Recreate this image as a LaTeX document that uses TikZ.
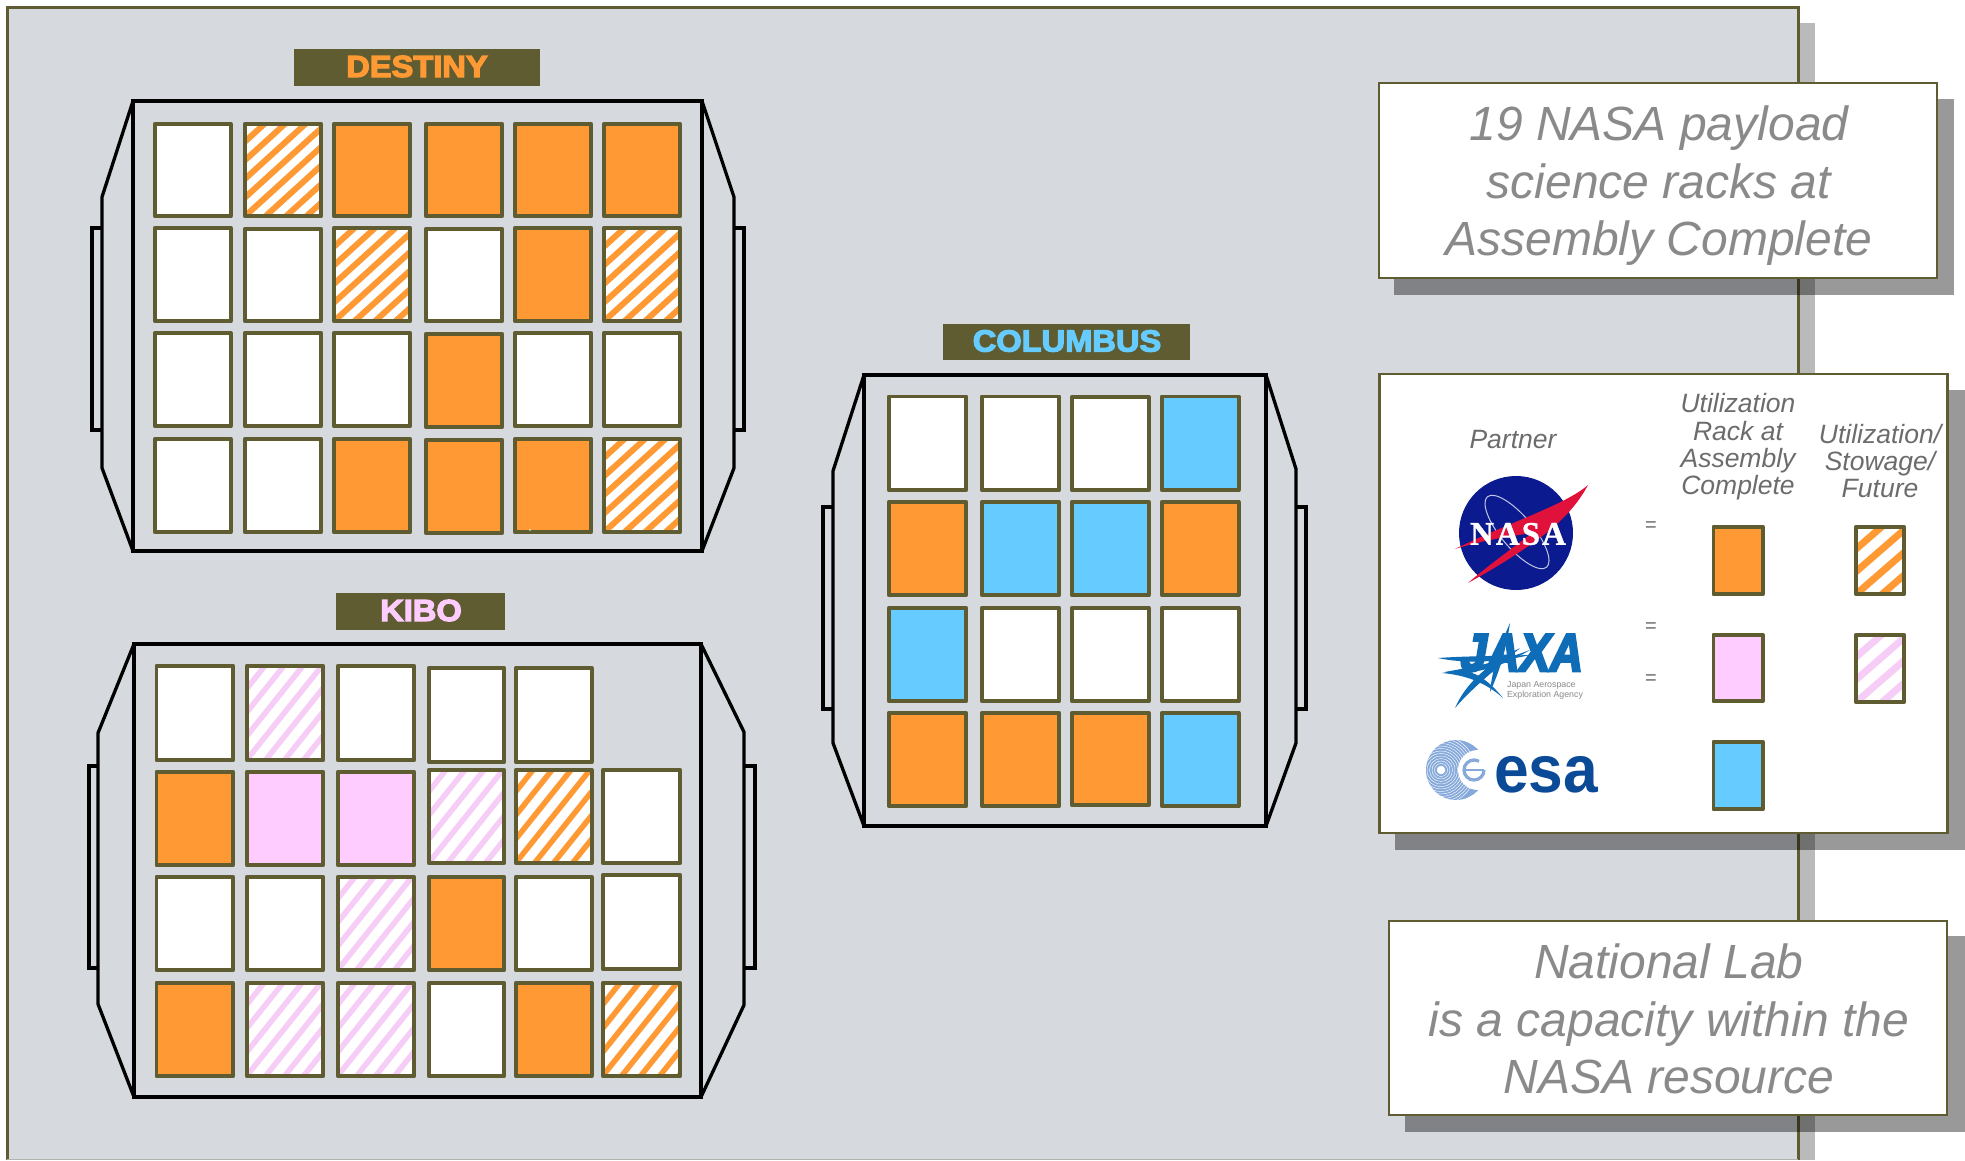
\documentclass[tikz,border=0pt]{standalone}
\usepackage{graphicx}
\usepackage{fontspec}
\setmainfont{Liberation Sans}
\newfontfamily\titlefont[FakeBold=4,FakeStretch=1.07]{Liberation Sans Bold}
\newfontfamily\jaxafont[FakeBold=5,FakeSlant=0.2]{Liberation Sans Bold}
\newfontfamily\nasafont[LetterSpace=6,FakeBold=1]{Liberation Serif Bold}
\definecolor{olive}{HTML}{5E5C30}
\definecolor{panelgray}{HTML}{D6DADE}
\definecolor{rackorange}{HTML}{FF9933}
\definecolor{rackpink}{HTML}{FFCCFF}
\definecolor{hatchpink}{HTML}{F6CDF6}
\definecolor{rackblue}{HTML}{66CCFF}
\definecolor{captiongray}{HTML}{8A8A8A}
\definecolor{legendgray}{HTML}{6C6C6C}
\definecolor{nasablue}{HTML}{0B1A8E}
\definecolor{nasared}{HTML}{E0123C}
\definecolor{jaxablue}{HTML}{0F6CB6}
\definecolor{esablue}{HTML}{0A4A96}
\definecolor{esapale}{HTML}{86A9DB}
\tikzset{
  rackline/.style={draw=olive,line width=3.9pt,line join=round},
  hull/.style={draw=black,line width=4.4pt,line join=miter},
  wing/.style={draw=black,line width=3.3pt,line join=miter},
  titlebar/.style={fill=olive,draw=none,inner sep=0pt},
  titletext/.style={font=\titlefont\fontsize{30.5}{30.5}\selectfont},
  infobox/.style={draw=olive,fill=white,line width=2.8pt,inner sep=0pt},
  boxshadow/.style={fill=black,opacity=.4},
  caption/.style={font=\itshape\fontsize{48}{57.5}\selectfont,text=captiongray,align=center,inner sep=0pt},
  legendhead/.style={font=\itshape\fontsize{26.5}{27.3}\selectfont,text=legendgray,align=center,inner sep=0pt},
  eqsign/.style={font=\fontsize{20}{20}\selectfont,text=legendgray,inner sep=0pt},
}
\newcommand{\hatchrun}{1.1}
% plain rack: x0 y0 x1 y1 (outer edges) colour
\newcommand{\rackcell}[5]{\path[fill=#5,rackline] (#1+1.9,#2+1.9) rectangle (#3-1.9,#4-1.9);}
% hatched rack: x0 y0 x1 y1 colour xstep width
\newcommand{\hatchcell}[7]{%
  \path[fill=white] (#1+1.9,#2+1.9) rectangle (#3-1.9,#4-1.9);
  \begin{scope}
    \clip (#1+1.9,#2+1.9) rectangle (#3-1.9,#4-1.9);
    \foreach \k in {-8,...,9}{
      \draw[#5,line width=#7pt] (#1+\k*#6,#4) -- (#1+\k*#6+\hatchrun*#4-\hatchrun*#2,#2);
    }
  \end{scope}
  \path[rackline] (#1+1.9,#2+1.9) rectangle (#3-1.9,#4-1.9);}
\begin{document}
\begin{tikzpicture}[x=1pt,y=-1pt]
\useasboundingbox (0,0) rectangle (1965,1160);
\clip (0,0) rectangle (1965,1160);
% main panel
\fill[black,opacity=.27] (1798,23) rectangle (1815,1160);
\fill[panelgray] (7,7) rectangle (1798,1160);
\draw[olive,line width=3pt] (7,1160) -- (7,7) -- (1798,7) -- (1798,1160);
\draw[olive!30!panelgray,line width=1.5pt] (7,1159.3) -- (1798,1159.3);

% DESTINY
\node[titlebar,minimum width=246pt,minimum height=37pt] (destinybar) at (417,67.5) {};
\node[titletext,text=rackorange] (destinylabel) at (417,66.5) {DESTINY};
\draw[wing] (133,101) -- (102,197) -- (102,468) -- (133,551);
\draw[wing] (702,101) -- (734,197) -- (734,468) -- (702,551);
\draw[wing] (102,228) -- (92,228) -- (92,430) -- (102,430);
\draw[wing] (734,228) -- (744,228) -- (744,430) -- (734,430);
\draw[hull] (133,101) rectangle (702,551);
\rackcell{153}{122}{232.6}{218}{white}
\hatchcell{243}{122}{323}{218}{rackorange}{20.5}{6}
\rackcell{332}{122}{412}{218}{rackorange}
\rackcell{424}{122}{504}{218}{rackorange}
\rackcell{513}{122}{593}{218}{rackorange}
\rackcell{602}{122}{682}{218}{rackorange}
\rackcell{153}{226}{232.6}{323}{white}
\rackcell{243}{227}{323}{323}{white}
\hatchcell{332}{226}{412}{323}{rackorange}{20.5}{6}
\rackcell{424}{227}{504}{323}{white}
\rackcell{513}{226}{593}{323}{rackorange}
\hatchcell{602}{226}{682}{323}{rackorange}{20.5}{6}
\rackcell{153}{331}{232.6}{428}{white}
\rackcell{243}{331}{323}{428}{white}
\rackcell{332}{331}{412}{428}{white}
\rackcell{424}{332}{504}{429}{rackorange}
\rackcell{513}{331}{593}{428}{white}
\rackcell{602}{331}{682}{428}{white}
\rackcell{153}{437}{232.6}{534}{white}
\rackcell{243}{437}{323}{534}{white}
\rackcell{332}{437}{412}{534}{rackorange}
\rackcell{424}{438}{504}{535}{rackorange}
\rackcell{513}{437}{593}{534}{rackorange}
\hatchcell{602}{437}{682}{534}{rackorange}{20.5}{6}

% KIBO
\renewcommand{\hatchrun}{0.8}
\node[titlebar,minimum width=169pt,minimum height=37pt] (kibobar) at (420.5,611.5) {};
\node[titletext,text=rackpink] (kibolabel) at (421,610.5) {KIBO};
\draw[wing] (134,644) -- (98,733) -- (98,1004) -- (134,1097);
\draw[wing] (701,644) -- (744,732) -- (744,1005) -- (701,1097);
\draw[wing] (98,766) -- (89,766) -- (89,968) -- (98,968);
\draw[wing] (744,766) -- (755,766) -- (755,968) -- (744,968);
\draw[hull,line width=3.6pt] (134,644) rectangle (701,1097);
\rackcell{154.6}{664}{235}{762}{white}
\hatchcell{245}{664}{325}{762}{hatchpink}{19}{5.5}
\rackcell{336}{664}{416}{762}{white}
\rackcell{427}{666}{506}{764}{white}
\rackcell{514}{666}{593.5}{764}{white}
\rackcell{154.6}{770}{235}{867}{rackorange}
\rackcell{245}{770}{325}{867}{rackpink}
\rackcell{336}{770}{416}{867}{rackpink}
\hatchcell{427}{768}{506}{865}{hatchpink}{19}{5.5}
\hatchcell{514}{768}{593.5}{865}{rackorange}{19}{5.5}
\rackcell{601}{768}{682}{865}{white}
\rackcell{154.6}{875}{235}{972}{white}
\rackcell{245}{875}{325}{972}{white}
\hatchcell{336}{875}{416}{972}{hatchpink}{19}{5.5}
\rackcell{427}{875}{506}{972}{rackorange}
\rackcell{514}{875}{593.5}{972}{white}
\rackcell{601}{873}{682}{971}{white}
\rackcell{154.6}{981}{235}{1078}{rackorange}
\hatchcell{245}{981}{325}{1078}{hatchpink}{19}{5.5}
\hatchcell{336}{981}{416}{1078}{hatchpink}{19}{5.5}
\rackcell{427}{981}{506}{1078}{white}
\rackcell{514}{981}{593.5}{1078}{rackorange}
\hatchcell{601}{981}{682}{1078}{rackorange}{19}{5.5}

% COLUMBUS
\node[titlebar,minimum width=247pt,minimum height=36.5pt] (columbusbar) at (1066.5,342) {};
\node[titletext,text=rackblue] (columbuslabel) at (1067,341) {COLUMBUS};
\draw[wing] (864,375) -- (833,471) -- (833,743) -- (864,826);
\draw[wing] (1266,375) -- (1296,469) -- (1296,743) -- (1266,826);
\draw[wing] (833,507) -- (823,507) -- (823,709) -- (833,709);
\draw[wing] (1296,507) -- (1306,507) -- (1306,709) -- (1296,709);
\draw[hull,line width=3.8pt] (864,375) rectangle (1266,826);
\rackcell{887}{394.6}{968}{492}{white}
\rackcell{980}{394.6}{1061}{492}{white}
\rackcell{1070}{395}{1150.6}{492}{white}
\rackcell{1160}{394.6}{1240.5}{492}{rackblue}
\rackcell{887}{500}{968}{597}{rackorange}
\rackcell{980}{500}{1061}{597}{rackblue}
\rackcell{1070}{500}{1150.6}{597}{rackblue}
\rackcell{1160}{500}{1240.5}{597}{rackorange}
\rackcell{887}{606}{968}{703}{rackblue}
\rackcell{980}{606}{1061}{703}{white}
\rackcell{1070}{606}{1150.6}{703}{white}
\rackcell{1160}{606}{1240.5}{703}{white}
\rackcell{887}{711}{968}{808}{rackorange}
\rackcell{980}{711}{1061}{808}{rackorange}
\rackcell{1070}{711}{1150.6}{807}{rackorange}
\rackcell{1160}{711}{1240.5}{808}{rackblue}

% caption box 1
\fill[boxshadow] (1394,99) rectangle (1954,295);
\node[infobox,minimum width=558pt,minimum height=195pt] (capbox) at (1658,180.5) {};
\node[caption] (captext) at (1659,186) {19 NASA payload\\science racks at\\Assembly Complete};

% legend
\fill[boxshadow] (1395,390) rectangle (1965,850);
\node[infobox,minimum width=568pt,minimum height=459pt] (legbox) at (1663.5,603.5) {};
\node[legendhead] (legpartner) at (1513,440) {Partner};
\node[legendhead] (leguse) at (1738,447) {Utilization\\Rack at\\Assembly\\Complete};
\node[legendhead] (legfuture) at (1880,461) {Utilization/\\Stowage/\\Future};
\node[eqsign] (eqa) at (1651,527) {=};
\node[eqsign] (eqb) at (1651,628) {=};
\node[eqsign] (eqc) at (1651,680) {=};
\renewcommand{\hatchrun}{1.15}
\rackcell{1711.6}{525}{1764.7}{596}{rackorange}
\hatchcell{1854}{525}{1906}{596}{rackorange}{26}{7}
\rackcell{1711.6}{633}{1764.7}{703}{rackpink}
\hatchcell{1854}{633}{1906}{704}{hatchpink}{26}{7}
\rackcell{1711.6}{740}{1764.7}{811}{rackblue}

% NASA logo
\fill[nasablue] (1516,533) circle [radius=57];
\foreach \sx/\sy in {1500,490/1530,494/1545,505/1482,515/1475,545/1490,575/1510,565/1535,575/1550,555/1558,540/1555,520/1520,510/1500,555/1465,530}{
  \fill[white] (\sx,\sy) circle [radius=.9];
}
\draw[white!75!nasablue,line width=1pt,rotate around={-50:(1517,532)}] (1517,532) ellipse [x radius=46,y radius=16];
\fill[nasared] (1588,485) .. controls (1565,505) and (1510,522) .. (1455,549)
  .. controls (1480,541) and (1505,537) .. (1532,533)
  .. controls (1510,550) and (1485,568) .. (1468,583)
  .. controls (1495,568) and (1525,550) .. (1550,530)
  .. controls (1568,515) and (1580,500) .. (1588,485) -- cycle;
\node[inner sep=0pt,text=white,font=\nasafont\fontsize{33}{33}\selectfont] (nasaword) at (1518,534) {NASA};

% JAXA logo
\node[inner sep=0pt,text=jaxablue,font=\jaxafont\fontsize{53}{53}\selectfont] (jaxaword) at (1520,653) {\scalebox{.86}[1]{JAXA}};
\fill[jaxablue] (1510,623) .. controls (1506,650) and (1500,670) .. (1490,692) .. controls (1492,670) and (1500,645) .. (1510,623) -- cycle;
\fill[jaxablue] (1438,658) .. controls (1465,656) and (1500,656) .. (1530,655) .. controls (1500,662) and (1465,664) .. (1438,658) -- cycle;
\fill[jaxablue] (1455,708) .. controls (1465,685) and (1485,665) .. (1520,648) .. controls (1495,670) and (1472,688) .. (1455,708) -- cycle;
\fill[jaxablue] (1442,673) .. controls (1465,668) and (1480,670) .. (1503,698) .. controls (1485,682) and (1465,675) .. (1442,673) -- cycle;
\fill[jaxablue] (1445,672) .. controls (1465,668) and (1490,665) .. (1530,650) .. controls (1500,668) and (1470,676) .. (1445,672) -- cycle;
\node[inner sep=0pt,text=captiongray,align=left,font=\fontsize{8.8}{9.5}\selectfont] (jaxasub) at (1545,690.5) {Japan Aerospace\\Exploration Agency};

% ESA logo
\begin{scope}
  \clip (1456,770) circle [radius=30];
  \fill[esapale] (1456,770) circle [radius=30];
  \foreach \r in {4,6.5,...,34}{\draw[white,line width=.45pt] (1441,770) circle [radius=\r];}
\end{scope}
\fill[white] (1478,770) circle [radius=20];
\fill[white] (1441,770) circle [radius=4];
\draw[esapale,line width=3.2pt] (1484,770) arc [start angle=0,end angle=300,radius=10];
\draw[esapale,line width=2pt] (1464,770) -- (1484,770);
\node[inner sep=0pt,text=esablue,font=\bfseries\fontsize{67}{67}\selectfont] (esaword) at (1546,774.5) {\scalebox{.93}[1]{esa}};

% caption box 3
\fill[boxshadow] (1405,936) rectangle (1965,1132);
\node[infobox,minimum width=558pt,minimum height=194pt] (natbox) at (1668,1018) {};
\node[caption] (nattext) at (1669,1019) {National Lab\\is a capacity within the\\NASA resource};
\end{tikzpicture}
\end{document}
